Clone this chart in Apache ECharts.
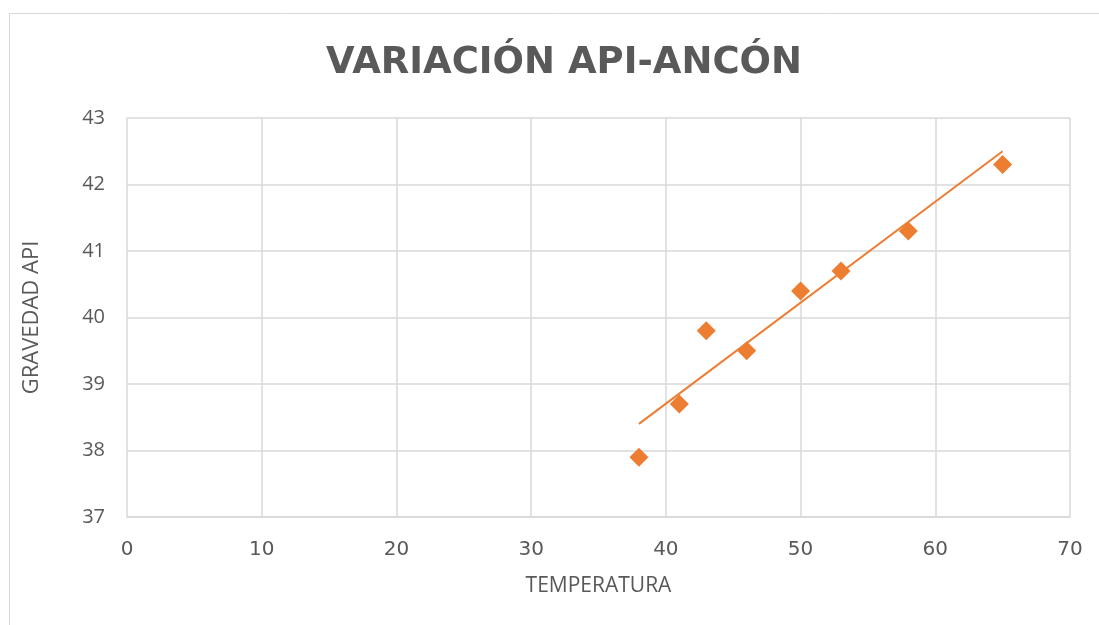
<!DOCTYPE html>
<html>
<head>
<meta charset="utf-8">
<script src="https://cdn.jsdelivr.net/npm/echarts@6/dist/echarts.min.js"></script>
<style>
  html, body { margin: 0; padding: 0; background: #fff; }
  #chart { width: 1099px; height: 625px; }
</style>
</head>
<body>
<div id="chart"></div>
<script>
// datos
const temperatura = [38, 41, 43, 46, 50, 53, 58, 65];
const gravedadApi = [37.9, 38.7, 39.8, 39.5, 40.4, 40.7, 41.3, 42.3];
// línea de tendencia (extremos)
const tendenciaX = [38, 65];
const tendenciaY = [38.4, 42.5];

const gris = "#595959";
const naranja = "#ED7D31";

const chart = echarts.init(document.getElementById("chart"));

chart.setOption({
  animation: false,
  graphic: [
    {
      type: "rect",
      shape: { x: 9.5, y: 13.5, width: 1200, height: 700 },
      style: { fill: "none", stroke: "#d9d9d9", lineWidth: 1 },
      silent: true
    }
  ],
  title: {
    text: "VARIACIÓN API-ANCÓN",
    left: 559,
    top: 40,
    textAlign: "center",
    textStyle: {
      fontFamily: "DejaVu Sans",
      fontWeight: "bold",
      fontSize: 37,
      color: gris
    }
  },
  grid: { left: 127, right: 29, top: 118, bottom: 108 },
  xAxis: {
    type: "value",
    min: 0,
    max: 70,
    interval: 10,
    name: "TEMPERATURA",
    nameLocation: "middle",
    nameGap: 59,
    nameTextStyle: { color: gris, fontSize: 21, fontFamily: "Open Sans" },
    axisLine: { show: true, lineStyle: { color: "#d9d9d9", width: 1.5 } },
    axisTick: { show: false },
    axisLabel: { color: gris, fontSize: 20, margin: 23, fontFamily: "DejaVu Sans" },
    splitLine: { show: true, lineStyle: { color: "#d9d9d9", width: 1.5 } }
  },
  yAxis: {
    type: "value",
    min: 37,
    max: 43,
    interval: 1,
    name: "GRAVEDAD API",
    nameLocation: "middle",
    nameGap: 84,
    nameRotate: 90,
    nameTextStyle: { color: gris, fontSize: 22, fontFamily: "Open Sans" },
    axisLine: { show: false },
    axisTick: { show: false },
    axisLabel: { color: gris, fontSize: 20, margin: 22, fontFamily: "Open Sans" },
    splitLine: { show: true, lineStyle: { color: "#d9d9d9", width: 1.5 } }
  },
  series: [
    {
      type: "line",
      data: tendenciaX.map((x, i) => [x, tendenciaY[i]]),
      showSymbol: false,
      symbol: "none",
      lineStyle: { color: naranja, width: 2 },
      silent: true
    },
    {
      type: "scatter",
      data: temperatura.map((x, i) => [x, gravedadApi[i]]),
      symbol: "diamond",
      symbolSize: [19, 19],
      itemStyle: { color: naranja, opacity: 1 }
    }
  ]
});
</script>
</body>
</html>
